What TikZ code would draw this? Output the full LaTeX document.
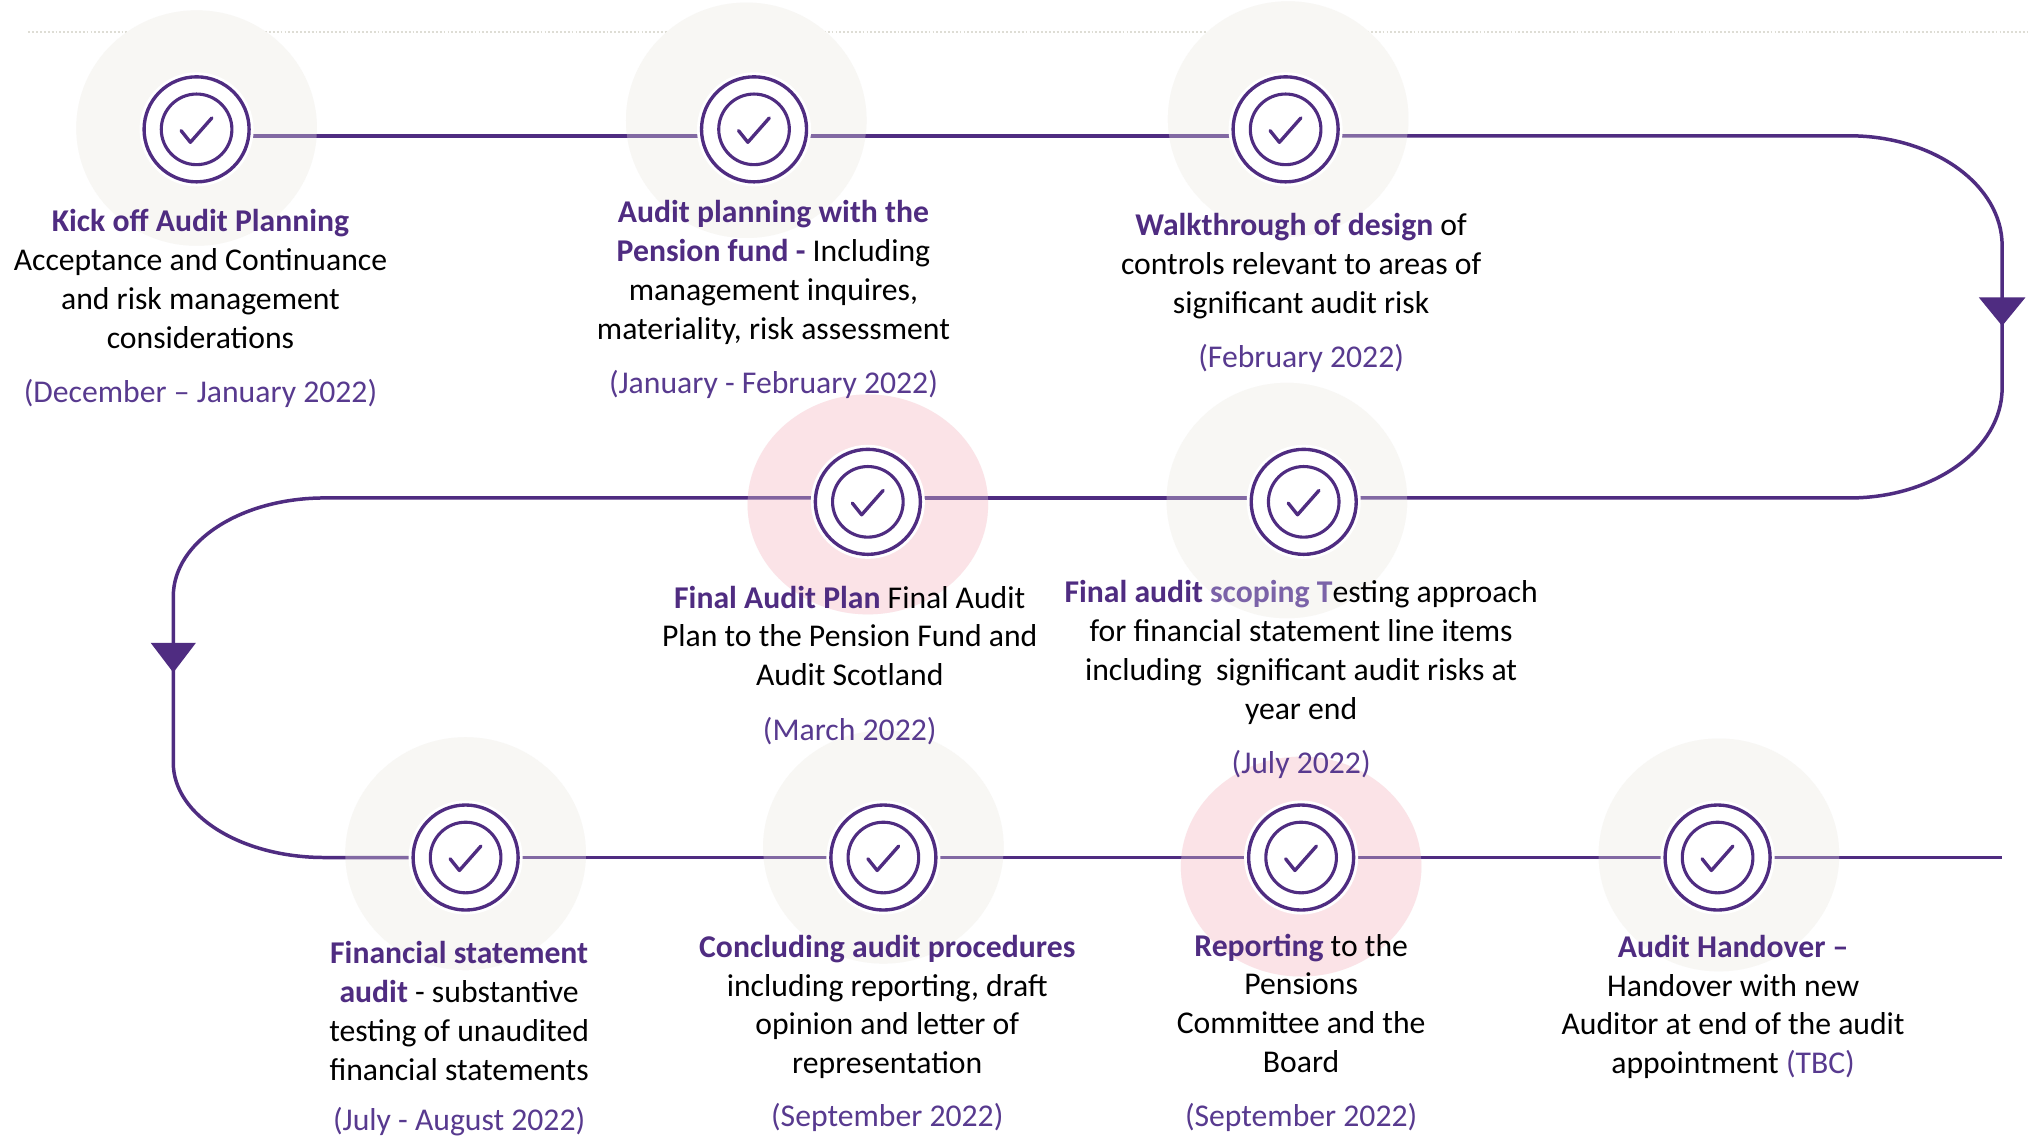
\documentclass[tikz,border=0pt]{standalone}
\usepackage{fontspec}
\setmainfont{Carlito}
\usetikzlibrary{calc}
\definecolor{pur}{HTML}{4F2C81}
\definecolor{dpur}{HTML}{583A8F}
\definecolor{lpur}{HTML}{7B63A8}
\definecolor{bggray}{HTML}{F8F7F4}
\definecolor{bgpink}{HTML}{FBE3E7}
\definecolor{dotgray}{HTML}{DEDDD5}
\pgfdeclarelayer{bglayer}
\pgfdeclarelayer{midlayer}
\pgfsetlayers{bglayer,midlayer,main}
\tikzset{
  pline/.style={draw=pur, line width=2.7pt},
  ring/.style={circle, minimum size=81.2pt, inner sep=0pt, draw=pur, line width=2.6pt, fill=white, preaction={draw=white, line width=7pt}},
  innerring/.style={draw=pur, line width=2.4pt},
  chk/.style={draw=pur, line width=2.6pt, line cap=round, line join=round},
  txt/.style={font=\fontsize{24.5}{30}\selectfont, align=center, inner sep=0pt, anchor=north, text=black},
  tip/.style={fill=pur},
}
\newcommand{\hdt}[1]{{\bfseries\color{pur}#1}}
\newcommand{\dt}[1]{{\color{dpur}#1}}
\begin{document}
\begin{tikzpicture}[x=1pt,y=-1pt]
\useasboundingbox (0,0) rectangle (1568,879);
\begin{pgfonlayer}{bglayer}
  \fill[white] (0,0) rectangle (1568,879);
  \draw[dotgray, line width=1.3pt, dash pattern=on 1.4pt off 1.6pt] (22,25) -- (1568,25);
  \foreach \x/\y/\ry/\c in {152/99/91/bggray, 577/93/91/bggray, 996/92/91/bggray, 671/390/85/bgpink, 995/387/91/bggray, 360/660/90/bggray, 683/655/90/bggray, 1006/670/85/bgpink, 1329/661/90/bggray}
    \fill[\c] (\x,\y) ellipse[x radius=93pt, y radius=\ry pt];
\end{pgfonlayer}

% rings
\foreach \n/\x/\y in {c1/152/100, c2/583/100, c3/994/100, c4/671/388, c5/1008/388, c6/360/663, c7/683/663, c8/1006/663, c9/1328/663} {
  \node[ring] (\n) at (\x,\y) {};
  \draw[innerring] (\n) circle[radius=27.3pt];
  \draw[chk] ($(\n)+(-12,1)$) -- ($(\n)+(-4.8,10)$) -- ($(\n)+(11.8,-8.8)$);
}

% route coordinates
\coordinate (rt) at (1430,105);
\coordinate (rv1) at (1548,190);
\coordinate (rv2) at (1548,300);
\coordinate (rb) at (1430,385);
\coordinate (lt) at (251,385);
\coordinate (lv1) at (134,461);
\coordinate (lv2) at (134,590);
\coordinate (lb) at (251,663);
\coordinate (rend) at (1548,663);
\coordinate (ra) at (1548,252);
\coordinate (la) at (134,520);

\begin{pgfonlayer}{midlayer}
  \draw[pline] ([yshift=-5pt]c1.east) -- ([yshift=-5pt]c2.west);
  \draw[pline] ([yshift=-5pt]c2.east) -- ([yshift=-5pt]c3.west);
  \draw[pline] ([yshift=-5pt]c3.east) -- (rt) .. controls +(65,0) and +(0,-47) .. (rv1) -- (rv2) .. controls +(0,47) and +(65,0) .. (rb) -- ([yshift=3pt]c5.east);
  \draw[pline] ([yshift=3pt]c5.west) -- ([yshift=3pt]c4.east);
  \draw[pline] ([yshift=3pt]c4.west) -- (lt) .. controls +(-65,0) and +(0,-42) .. (lv1) -- (lv2) .. controls +(0,40) and +(-65,0) .. (lb) -- (c6.west);
  \draw[pline] (c6.east) -- (c7.west);
  \draw[pline] (c7.east) -- (c8.west);
  \draw[pline] (c8.east) -- (c9.west);
  \draw[pline] (c9.east) -- (rend);
  \fill[tip] (ra) -- ++(-18,-22) -- ++(36,0) -- cycle;
  \fill[tip] (la) -- ++(-17.5,-23) -- ++(35,0) -- cycle;
  % translucent overlay of the halo discs over the route
  \foreach \x/\y/\ry/\c in {152/99/91/bggray, 577/93/91/bggray, 996/92/91/bggray, 671/390/85/bgpink, 995/387/91/bggray, 360/660/90/bggray, 683/655/90/bggray, 1006/670/85/bgpink, 1329/661/90/bggray}
    \fill[\c, opacity=0.3] (\x,\y) ellipse[x radius=93pt, y radius=\ry pt];
\end{pgfonlayer}

% texts
\node[txt] (t1) at (155,158) {\strut\hdt{Kick off Audit Planning}\\ Acceptance and Continuance\\ and risk management\\ considerations\\[12pt] \dt{(December – January 2022)}};
\node[txt] (t2) at (598,151) {\strut\hdt{Audit planning with the}\\ \hdt{Pension fund -} Including\\ management inquires,\\ materiality, risk assessment\\[12pt] \dt{(January - February 2022)}};
\node[txt] (t3) at (1006,161) {\strut\hdt{Walkthrough of design} of\\ controls relevant to areas of\\ significant audit risk\\[12pt] \dt{(February 2022)}};
\node[txt] (t4) at (657,449) {\strut\hdt{Final Audit Plan} Final Audit\\ Plan to the Pension Fund and\\ Audit Scotland\\[12pt] \dt{(March 2022)}};
\node[txt] (t5) at (1006,445) {\strut{\bfseries\color{pur}Final audit \color{lpur}scoping T}esting approach\\ for financial statement line items\\ including\ \ significant audit risks at\\ year end\\[12pt] \dt{(July 2022)}};
\node[txt] (t6) at (355,724) {\strut\hdt{Financial statement}\\ \hdt{audit} - substantive\\ testing of unaudited\\ financial statements\\[9pt] \dt{(July - August 2022)}};
\node[txt] (t7) at (686,719) {\strut\hdt{Concluding audit procedures}\\ including reporting, draft\\ opinion and letter of\\ representation\\[11pt] \dt{(September 2022)}};
\node[txt] (t8) at (1006,718) {\strut\hdt{Reporting} to the\\ Pensions\\ Committee and the\\ Board\\[12pt] \dt{(September 2022)}};
\node[txt] (t9) at (1340,719) {\strut\hdt{Audit Handover –}\\ Handover with new\\ Auditor at end of the audit\\ appointment \dt{(TBC)}};
\end{tikzpicture}
\end{document}
